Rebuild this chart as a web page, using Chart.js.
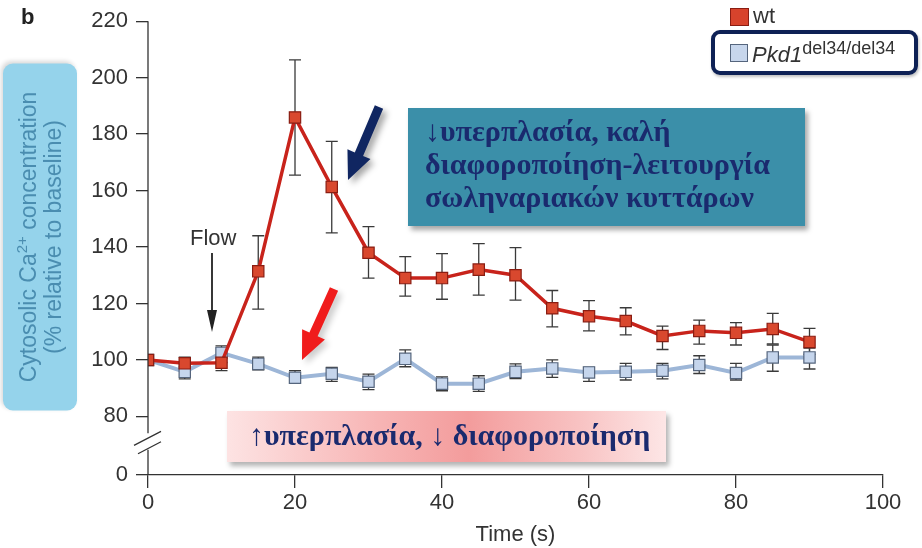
<!DOCTYPE html>
<html>
<head>
<meta charset="utf-8">
<script src="https://cdn.jsdelivr.net/npm/chart.js@4.4.1/dist/chart.umd.min.js"></script>
<style>
  body { margin: 0; background: #fff; }
  #wrap { position: relative; width: 922px; height: 548px; overflow: hidden; font-family: "Liberation Sans", Arial, sans-serif; color: #333; }
  #chart { position: absolute; left: 0; top: 0; }
  .panel { position: absolute; left: 21px; top: 4px; font: bold 22px "Liberation Sans", Arial, sans-serif; color: #222; }
  .ytitle { position: absolute; left: 40px; top: 237px; width: 347px; height: 74px; transform: translate(-50%, -50%) rotate(-90deg);
    background: #95d3eb; border-radius: 10px; box-shadow: 2px -2px 4px rgba(0,0,0,0.15);
    color: #4a8db0; font-size: 23px; line-height: 25px; text-align: center; padding-top: 13px; box-sizing: border-box; white-space: nowrap; }
  .ytitle sup { font-size: 15px; line-height: 0; }
  .legend { position: absolute; font-size: 22px; color: #333; white-space: nowrap; }
  .sw { position: absolute; width: 17px; height: 17px; box-sizing: border-box; }
  .legbox { position: absolute; left: 711px; top: 30px; width: 207px; height: 45px; box-sizing: border-box;
    border: 4px solid #0e2155; border-radius: 9px; box-shadow: 1px 2px 3px rgba(0,0,0,0.25); }
  .note { position: absolute; font: bold 30px "Liberation Serif", "DejaVu Serif", serif; color: #1a2a6e; box-sizing: border-box; white-space: nowrap; }
  .teal { left: 408px; top: 108px; width: 397px; height: 118px; background: #3b8fa9; padding: 6px 0 0 17px; line-height: 33px;
    box-shadow: 3px 4px 5px rgba(0,0,0,0.35); }
  .pink { left: 227px; top: 411px; width: 439px; height: 51px; padding: 7px 0 0 22px; line-height: 33px;
    background: linear-gradient(to right, #fde3e3 0%, #f7b4b4 35%, #f39c9c 55%, #f8c2c2 80%, #fde6e6 100%);
    box-shadow: 3px 4px 5px rgba(0,0,0,0.3); }
  .flow { position: absolute; left: 190px; top: 225px; font-size: 22px; color: #333; }
</style>
</head>
<body>
<div id="wrap">
  <canvas id="chart" width="922" height="548"></canvas>
  <div class="panel">b</div>
  <div class="ytitle">Cytosolic Ca<sup>2+</sup> concentration<br>(% relative to baseline)</div>
  <div class="legbox"></div>
  <div class="sw" style="left:730px;top:8px;width:19px;height:18px;background:#d7432c;border:1.5px solid #8a1d12;"></div>
  <div class="legend" style="left:753px;top:3px;">wt</div>
  <div class="sw" style="left:730px;top:44px;width:18px;height:18px;background:#c7d6ec;border:1.5px solid #55657d;"></div>
  <div class="legend" style="left:752px;top:38px;"><i>Pkd1</i><sup style="font-size:18px;">del34/del34</sup></div>
  <div class="note teal">↓υπερπλασία, καλή<br>διαφοροποίηση-λειτουργία<br>σωληναριακών κυττάρων</div>
  <div class="note pink">↑υπερπλασία, ↓ διαφοροποίηση</div>
  <div class="flow">Flow</div>
</div>
<script>
// time points (s)
const times = [0, 5, 10, 15, 20, 25, 30, 35, 40, 45, 50, 55, 60, 65, 70, 75, 80, 85, 90];

// wt
const wtMean  = [100, 98.8, 99, 131.4, 185.9, 161.3, 138, 129, 129, 132, 130, 118.3, 115.5, 113.8, 108.5, 110.3, 109.6, 111, 106.4];
const wtUpper = [100, 101, 101.4, 144, 206.3, 177.4, 147.2, 136.6, 137.7, 141.2, 139.8, 124.6, 121, 118.5, 112, 114.1, 113.2, 116.5, 111.2];
const wtLower = [100, 96.8, 96.2, 118, 165.5, 145, 129, 122.6, 121.5, 123, 121.2, 111.7, 110.3, 108.9, 103.7, 105.6, 105.3, 105.7, 102];

// Pkd1 del34/del34
const pkdMean  = [100, 95.8, 102.5, 98.6, 93.7, 95.1, 92.3, 100.4, 91.6, 91.6, 95.8, 97, 95.6, 95.8, 96.2, 98.2, 95.4, 100.9, 100.9];
const pkdUpper = [100, 98.5, 105, 101, 96.2, 97.4, 95, 103.6, 94, 94.4, 98.6, 100, 97.4, 98.8, 98.8, 101.5, 98.8, 105.3, 104.2];
const pkdLower = [100, 93.3, 99.1, 96.5, 92, 92.4, 89.5, 97.6, 89.1, 88.9, 93.4, 93.8, 92.4, 92.9, 93.3, 95.2, 92.9, 96, 96.8];

const xTicks = [0, 20, 40, 60, 80, 100];
const yTicks = [80, 100, 120, 140, 160, 180, 200, 220];

// axis value where the "0" below the break sits, and the break gap
const Y_ZERO = 59.25;
const BREAK_HI = 74;
const BREAK_LO = 68.2;

const axisColor = "#333";
const tickFont = { family: "'Liberation Sans', Arial, sans-serif", size: 22 };

const toPoints = (ys) => times.map((t, i) => ({ x: t, y: ys[i] }));

// error bars behind the markers
const errorBars = {
  id: "errorBars",
  beforeDatasetsDraw(chart) {
    const { ctx, scales: { x, y } } = chart;
    ctx.save();
    ctx.strokeStyle = "#3a3a3a";
    ctx.lineWidth = 1.3;
    chart.data.datasets.forEach((ds) => {
      ds.data.forEach((p, i) => {
        const px = x.getPixelForValue(p.x);
        const top = y.getPixelForValue(ds.upper[i]);
        const bot = y.getPixelForValue(ds.lower[i]);
        if (Math.abs(bot - top) < 2) return;
        ctx.beginPath();
        ctx.moveTo(px, top); ctx.lineTo(px, bot);
        ctx.moveTo(px - 6, top); ctx.lineTo(px + 6, top);
        ctx.moveTo(px - 6, bot); ctx.lineTo(px + 6, bot);
        ctx.stroke();
      });
    });
    ctx.restore();
  }
};

const drawArrow = (ctx, x0, y0, x1, y1, shaft, headW, headL, color) => {
  const len = Math.hypot(x1 - x0, y1 - y0);
  const ux = (x1 - x0) / len, uy = (y1 - y0) / len;
  const nx = -uy, ny = ux;
  const bx = x1 - ux * headL, by = y1 - uy * headL;
  ctx.beginPath();
  ctx.moveTo(x0 + nx * shaft / 2, y0 + ny * shaft / 2);
  ctx.lineTo(bx + nx * shaft / 2, by + ny * shaft / 2);
  ctx.lineTo(bx + nx * headW / 2, by + ny * headW / 2);
  ctx.lineTo(x1, y1);
  ctx.lineTo(bx - nx * headW / 2, by - ny * headW / 2);
  ctx.lineTo(bx - nx * shaft / 2, by - ny * shaft / 2);
  ctx.lineTo(x0 - nx * shaft / 2, y0 - ny * shaft / 2);
  ctx.closePath();
  ctx.fillStyle = color;
  ctx.fill();
};

// broken y axis line + arrows
const extras = {
  id: "extras",
  afterDraw(chart) {
    const { ctx, scales: { y }, chartArea } = chart;
    const ax = chartArea.left;
    ctx.save();
    ctx.strokeStyle = axisColor;
    ctx.lineWidth = 1.3;
    ctx.beginPath();
    ctx.moveTo(ax, y.getPixelForValue(220));
    ctx.lineTo(ax, y.getPixelForValue(BREAK_HI));
    ctx.moveTo(ax, y.getPixelForValue(BREAK_LO));
    ctx.lineTo(ax, chartArea.bottom);
    const b1 = y.getPixelForValue(BREAK_HI), b2 = y.getPixelForValue(BREAK_LO);
    ctx.moveTo(ax - 14, b1 + 12); ctx.lineTo(ax + 13, b1 - 2);
    ctx.moveTo(ax - 10, b2 + 4); ctx.lineTo(ax + 13, b2 - 8);
    ctx.stroke();

    ctx.shadowColor = "rgba(0,0,0,0.35)";
    ctx.shadowBlur = 6;
    ctx.shadowOffsetX = 4;
    ctx.shadowOffsetY = 4;
    drawArrow(ctx, 379, 107, 348, 180, 9, 25, 28, "#102661");
    ctx.shadowColor = "rgba(0,0,0,0.2)";
    drawArrow(ctx, 334, 289, 302, 360, 9, 25, 28, "#f01c1c");
    ctx.shadowColor = "transparent";
    drawArrow(ctx, 212, 253, 212, 332, 1.8, 10, 22, "#222");
    ctx.restore();
  }
};

const ctx = document.getElementById("chart").getContext("2d");

new Chart(ctx, {
  type: "line",
  data: {
    datasets: [
      {
        label: "wt",
        data: toPoints(wtMean),
        upper: wtUpper,
        lower: wtLower,
        borderColor: "#c8231b",
        borderWidth: 3.5,
        pointStyle: "rect",
        pointRadius: 8,
        pointBackgroundColor: "#d9482e",
        pointBorderColor: "#8a1d12",
        pointBorderWidth: 1.2,
        tension: 0
      },
      {
        label: "Pkd1 del34/del34",
        data: toPoints(pkdMean),
        upper: pkdUpper,
        lower: pkdLower,
        borderColor: "#9db6d7",
        borderWidth: 4,
        pointStyle: "rect",
        pointRadius: 8,
        pointBackgroundColor: "#c5d5ec",
        pointBorderColor: "#55657d",
        pointBorderWidth: 1.2,
        tension: 0
      }
    ]
  },
  options: {
    responsive: false,
    animation: false,
    layout: { padding: { left: 0, right: 39, top: 18, bottom: 0 } },
    plugins: { legend: { display: false }, tooltip: { enabled: false } },
    scales: {
      x: {
        type: "linear",
        min: 0,
        max: 100,
        afterBuildTicks: (s) => { s.ticks = xTicks.map((v) => ({ value: v })); },
        afterFit: (s) => { s.height = 73; },
        ticks: { font: tickFont, color: axisColor, padding: 2, maxRotation: 0 },
        grid: { drawOnChartArea: false, drawTicks: true, tickLength: 13, color: axisColor, lineWidth: 1.3 },
        border: { display: true, color: axisColor, width: 1.3 },
        title: { display: true, text: "Time (s)", font: tickFont, color: axisColor, padding: { top: 0, bottom: 0 } }
      },
      y: {
        type: "linear",
        min: Y_ZERO,
        max: 220,
        afterBuildTicks: (s) => { s.ticks = [Y_ZERO, ...yTicks].map((v) => ({ value: v })); },
        afterFit: (s) => { s.width = 148; },
        ticks: { font: tickFont, color: axisColor, padding: 8, callback: (v) => (v === Y_ZERO ? "0" : v) },
        grid: { drawOnChartArea: false, drawTicks: true, tickLength: 12, color: axisColor, lineWidth: 1.3 },
        border: { display: false }
      }
    }
  },
  plugins: [errorBars, extras]
});
</script>
</body>
</html>
